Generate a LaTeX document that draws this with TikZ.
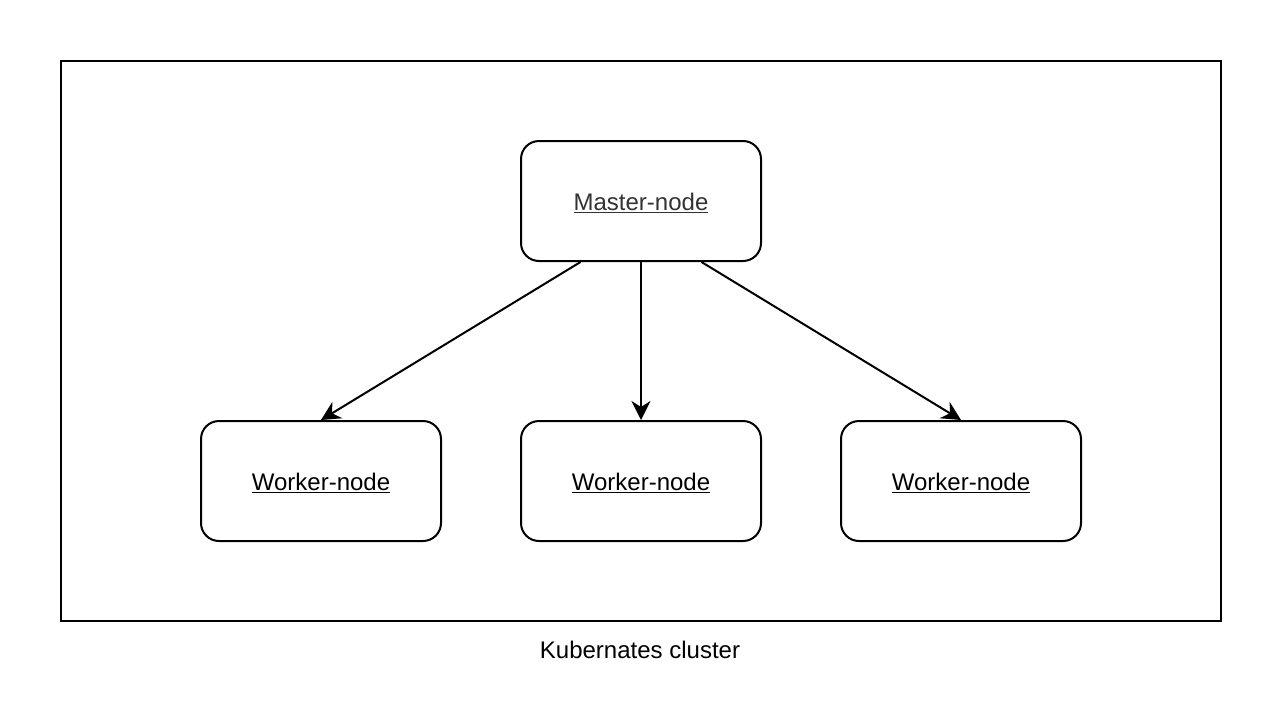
\documentclass[tikz,border=0pt]{standalone}
\usepackage{fontspec}
\setmainfont{Liberation Sans}
\usetikzlibrary{arrows.meta,calc}
\begin{document}
\begin{tikzpicture}[x=1pt,y=-1pt,
  box/.style={draw=black,line width=2pt,rounded corners=18pt,minimum width=240pt,minimum height=120pt,inner sep=0pt,fill=white,font=\fontsize{24}{28}\selectfont,text depth=0pt},
  arr/.style={line width=2pt,-{Stealth[length=19pt,width=19pt,inset=6pt]}},
  cluster/.style={draw=black,line width=2pt,minimum width=1160pt,minimum height=560pt,inner sep=0pt}
]
\useasboundingbox (0,0) rectangle (1282,726);
\node[cluster] (cl) at (641,341) {};
\node[font=\fontsize{24}{28}\selectfont] (lbl) at (640,650) {Kubernates cluster};
\node[box,text=black!80] (m) at (641,201) {\raisebox{-2pt}{\underline{Master-node}}};
\node[box] (w1) at (321,481) {\raisebox{-2pt}{\underline{Worker-node}}};
\node[box] (w2) at (641,481) {\raisebox{-2pt}{\underline{Worker-node}}};
\node[box] (w3) at (961,481) {\raisebox{-2pt}{\underline{Worker-node}}};
\coordinate (ms1) at ($(m.south west)!0.25!(m.south east)$);
\coordinate (ms3) at ($(m.south west)!0.75!(m.south east)$);
\draw[arr] (ms1) -- (w1.north);
\draw[arr] (m.south) -- (w2.north);
\draw[arr] (ms3) -- (w3.north);
\end{tikzpicture}
\end{document}
